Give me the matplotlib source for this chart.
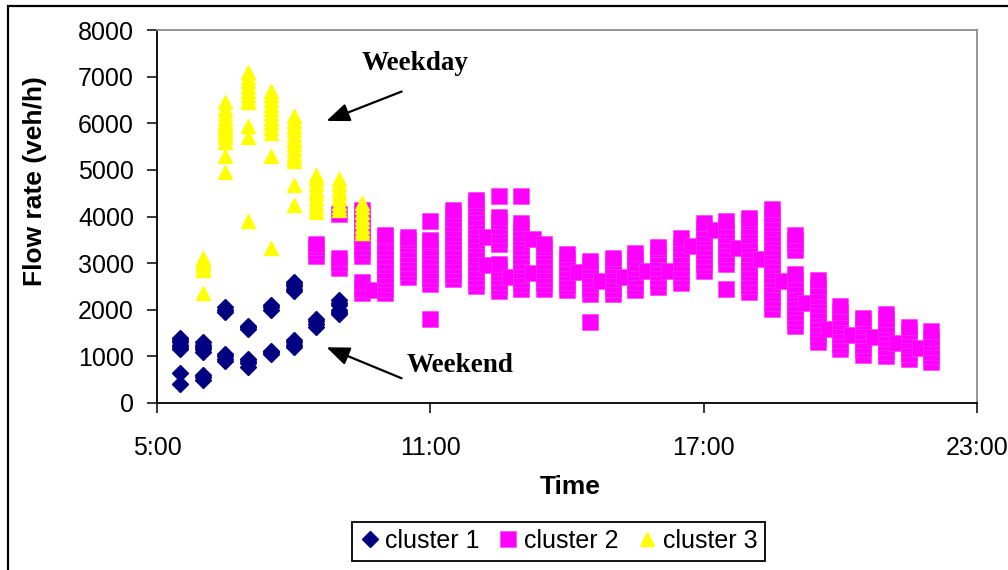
import matplotlib
matplotlib.use("Agg")
import matplotlib.pyplot as plt
from matplotlib.patches import Rectangle

plt.rcParams['font.family'] = ['Liberation Sans', 'DejaVu Sans']

# cluster 1 (weekend mornings)
c1_times = ["5:30", "6:00", "6:30", "7:00", "7:30", "8:00", "8:30", "9:00"]
c1_flows = [
    [400, 650, 1150, 1200, 1250, 1300, 1350, 1400],
    [500, 550, 600, 1100, 1150, 1200, 1250, 1300],
    [900, 950, 1000, 1050, 1950, 2000, 2050],
    [780, 850, 900, 950, 1580, 1620, 1650],
    [1050, 1100, 1120, 2000, 2050, 2100],
    [1200, 1250, 1300, 1350, 2400, 2450, 2500, 2550, 2600],
    [1620, 1700, 1750, 1800],
    [1900, 1950, 2000, 2100, 2150, 2200],
]

# cluster 2 (daytime / evening)
c2_times = ["8:30", "9:00", "9:30", "9:45", "10:00", "10:30", "11:00", "11:30",
            "12:00", "12:15", "12:30", "12:45", "13:00", "13:15", "13:30",
            "14:00", "14:15", "14:30", "14:45", "15:00", "15:15", "15:30",
            "15:45", "16:00", "16:15", "16:30", "16:45", "17:00", "17:15",
            "17:30", "17:45", "18:00", "18:15", "18:30", "18:45", "19:00",
            "19:15", "19:30", "19:45", "20:00", "20:15", "20:30", "20:45",
            "21:00", "21:15", "21:30", "21:45", "22:00"]
c2_flows = [
    [3150, 3250, 3350, 3400],
    [2900, 3000, 3100, 4050],
    [2350, 2450, 2600, 3150, 3250, 3350, 3450, 3550, 3650, 3750, 3850, 3950, 4050, 4150],
    [2420],
    [2350, 2450, 2550, 2650, 2750, 2850, 2950, 3050, 3150, 3250, 3350, 3450, 3550, 3600],
    [2700, 2800, 2900, 3000, 3100, 3200, 3300, 3400, 3500, 3560],
    [1800, 2550, 2650, 2750, 2850, 2950, 3050, 3150, 3250, 3350, 3450, 3500, 3900],
    [2650, 2750, 2850, 2950, 3050, 3150, 3250, 3350, 3450, 3550, 3650, 3750, 3850, 3950, 4050, 4140],
    [2500, 2600, 2700, 2800, 2900, 3000, 3100, 3200, 3300, 3400, 3500, 3600, 3700, 3800,
     3900, 4000, 4100, 4200, 4300, 4350],
    [2960, 3550],
    [2400, 2500, 2600, 2700, 2800, 2900, 2980, 3400, 3500, 3600, 3700, 3800, 3900, 4000, 4450],
    [2700],
    [2450, 2550, 2650, 2750, 2850, 2950, 3050, 3150, 3250, 3350, 3450, 3550, 3650, 3750, 3850, 4440],
    [2790, 3520],
    [2450, 2550, 2650, 2750, 2850, 2950, 3050, 3150, 3250, 3350, 3400],
    [2420, 2500, 2600, 2700, 2800, 2900, 3000, 3100, 3200],
    [2800],
    [1740, 2340, 2450, 2550, 2650, 2750, 2850, 2950, 3050],
    [2620],
    [2340, 2450, 2550, 2650, 2750, 2850, 2950, 3050, 3110],
    [2710],
    [2420, 2500, 2600, 2700, 2800, 2900, 3000, 3100, 3220],
    [2830],
    [2490, 2600, 2700, 2800, 2900, 3000, 3100, 3200, 3300, 3350],
    [2830],
    [2570, 2700, 2800, 2900, 3000, 3100, 3200, 3300, 3400, 3540],
    [3370],
    [2830, 2950, 3050, 3150, 3250, 3350, 3450, 3550, 3650, 3750, 3860],
    [3700],
    [2450, 2980, 3100, 3200, 3300, 3400, 3500, 3600, 3700, 3800, 3900],
    [3320],
    [2380, 2500, 2600, 2700, 2800, 2900, 3000, 3100, 3200, 3300, 3400, 3500, 3600, 3700,
     3800, 3900, 3970],
    [3090],
    [2020, 2150, 2250, 2350, 2450, 2550, 2650, 2750, 2850, 2950, 3050, 3150, 3250, 3350,
     3450, 3550, 3650, 3750, 3850, 3950, 4050, 4160],
    [2620],
    [1650, 1750, 1850, 1950, 2050, 2150, 2250, 2350, 2450, 2550, 2650, 2770, 3280, 3400, 3500, 3600],
    [2145],
    [1310, 1400, 1500, 1600, 1700, 1800, 1900, 2000, 2100, 2200, 2300, 2400, 2500, 2640],
    [1590],
    [1160, 1250, 1350, 1450, 1550, 1650, 1750, 1850, 1950, 2080],
    [1450],
    [1030, 1150, 1250, 1350, 1450, 1550, 1650, 1750, 1820],
    [1415],
    [1010, 1100, 1200, 1300, 1400, 1500, 1600, 1700, 1800, 1910],
    [1290],
    [940, 1050, 1150, 1250, 1350, 1450, 1550, 1630],
    [1190],
    [880, 1000, 1100, 1200, 1300, 1400, 1545],
]

# cluster 3 (weekday morning peak)
c3_times = ["6:00", "6:30", "7:00", "7:30", "8:00", "8:30", "9:00", "9:30"]
c3_flows = [
    [2350, 2850, 2900, 2950, 3000, 3050, 3100],
    [4950, 5300, 5600, 5700, 5800, 5850, 5900, 5950, 6000, 6100, 6200, 6300, 6450],
    [3900, 5700, 5950, 6450, 6500, 6600, 6700, 6800, 6900, 7000, 7100],
    [3330, 5300, 5800, 5900, 6000, 6100, 6200, 6300, 6400, 6500, 6600, 6700],
    [4250, 4680, 5200, 5250, 5350, 5450, 5550, 5650, 5750, 5850, 5950, 6050, 6150],
    [4100, 4200, 4300, 4400, 4500, 4600, 4700, 4800, 4900],
    [4150, 4200, 4300, 4400, 4500, 4600, 4700, 4800],
    [3650, 3700, 3800, 3900, 4000, 4100, 4200, 4300],
]

tick_hours = [5, 11, 17, 23]
tick_labels = ["5:00", "11:00", "17:00", "23:00"]


def to_hours(t):
    h, m = t.split(":")
    return int(h) + int(m) / 60


def flatten(times, flows):
    xs, ys = [], []
    for t, vals in zip(times, flows):
        xs += [to_hours(t)] * len(vals)
        ys += vals
    return xs, ys


fig = plt.figure(figsize=(10.08, 5.70), dpi=100)
ax = fig.add_axes([157 / 1008, 167 / 570, 820 / 1008, 373 / 570])

x1, y1 = flatten(c1_times, c1_flows)
x2, y2 = flatten(c2_times, c2_flows)
x3, y3 = flatten(c3_times, c3_flows)

ax.plot(x1, y1, linestyle='none', marker='D', ms=8, color='#000080',
        mec='#000080', label='cluster 1')
ax.plot(x2, y2, linestyle='none', marker='s', ms=11.2, color='#ff00ff',
        mec='#ff33ff', mew=0.4, label='cluster 2')
ax.plot(x3, y3, linestyle='none', marker='^', ms=10.5, color='#ffff00',
        mec='#ffff00', label='cluster 3')

ax.set_xlim(5, 23)
ax.set_ylim(0, 8000)
ax.set_xticks(tick_hours)
ax.set_xticklabels(tick_labels)
ax.set_yticks(range(0, 8001, 1000))
ax.tick_params(axis='both', direction='out', length=7, width=1.1, labelsize=18)
ax.tick_params(axis='y', pad=9.5)
ax.tick_params(axis='x', pad=17)

for side in ['left', 'bottom']:
    ax.spines[side].set_color('black')
    ax.spines[side].set_linewidth(1.3)
for side in ['top', 'right']:
    ax.spines[side].set_color('#8c8c8c')
    ax.spines[side].set_linewidth(1.3)

fig.text(35 / 1008, 1 - 181 / 570, 'Flow rate (veh/h)', rotation=90,
         ha='center', va='center', fontsize=19, fontweight='bold')
fig.text(570 / 1008, 1 - 487 / 570, 'Time', ha='center', va='center',
         fontsize=19, fontweight='bold')

# annotations
arrow = dict(arrowstyle='-|>,head_length=1.0,head_width=0.4', color='black',
             lw=1.6, mutation_scale=14, shrinkA=0, shrinkB=0)
ax.annotate('', xy=(8.72, 6050), xytext=(10.37, 6680), arrowprops=arrow)
ax.annotate('', xy=(8.72, 1195), xytext=(10.37, 530), arrowprops=arrow)
ax.text(10.66, 7290, 'Weekday', ha='center', va='center', fontsize=19.5,
        fontweight='bold', family='Liberation Serif')
ax.text(11.65, 815, 'Weekend', ha='center', va='center', fontsize=19.5,
        fontweight='bold', family='Liberation Serif')

leg = fig.legend(loc='center', bbox_to_anchor=(558.5 / 1008, 1 - 541 / 570),
                 ncol=3, fontsize=18, frameon=True, fancybox=False,
                 edgecolor='black', framealpha=1, numpoints=1,
                 handlelength=0.8, handletextpad=0.22, columnspacing=0.75,
                 borderpad=0.3, borderaxespad=0)
leg.get_frame().set_linewidth(1.3)

# chart area border
fig.add_artist(Rectangle((8 / 1008, -0.05), 1.2, 1.05 - 6 / 570,
                         transform=fig.transFigure, fill=False,
                         edgecolor='black', lw=1.6, clip_on=False))

fig.savefig('out.png', dpi=100)
